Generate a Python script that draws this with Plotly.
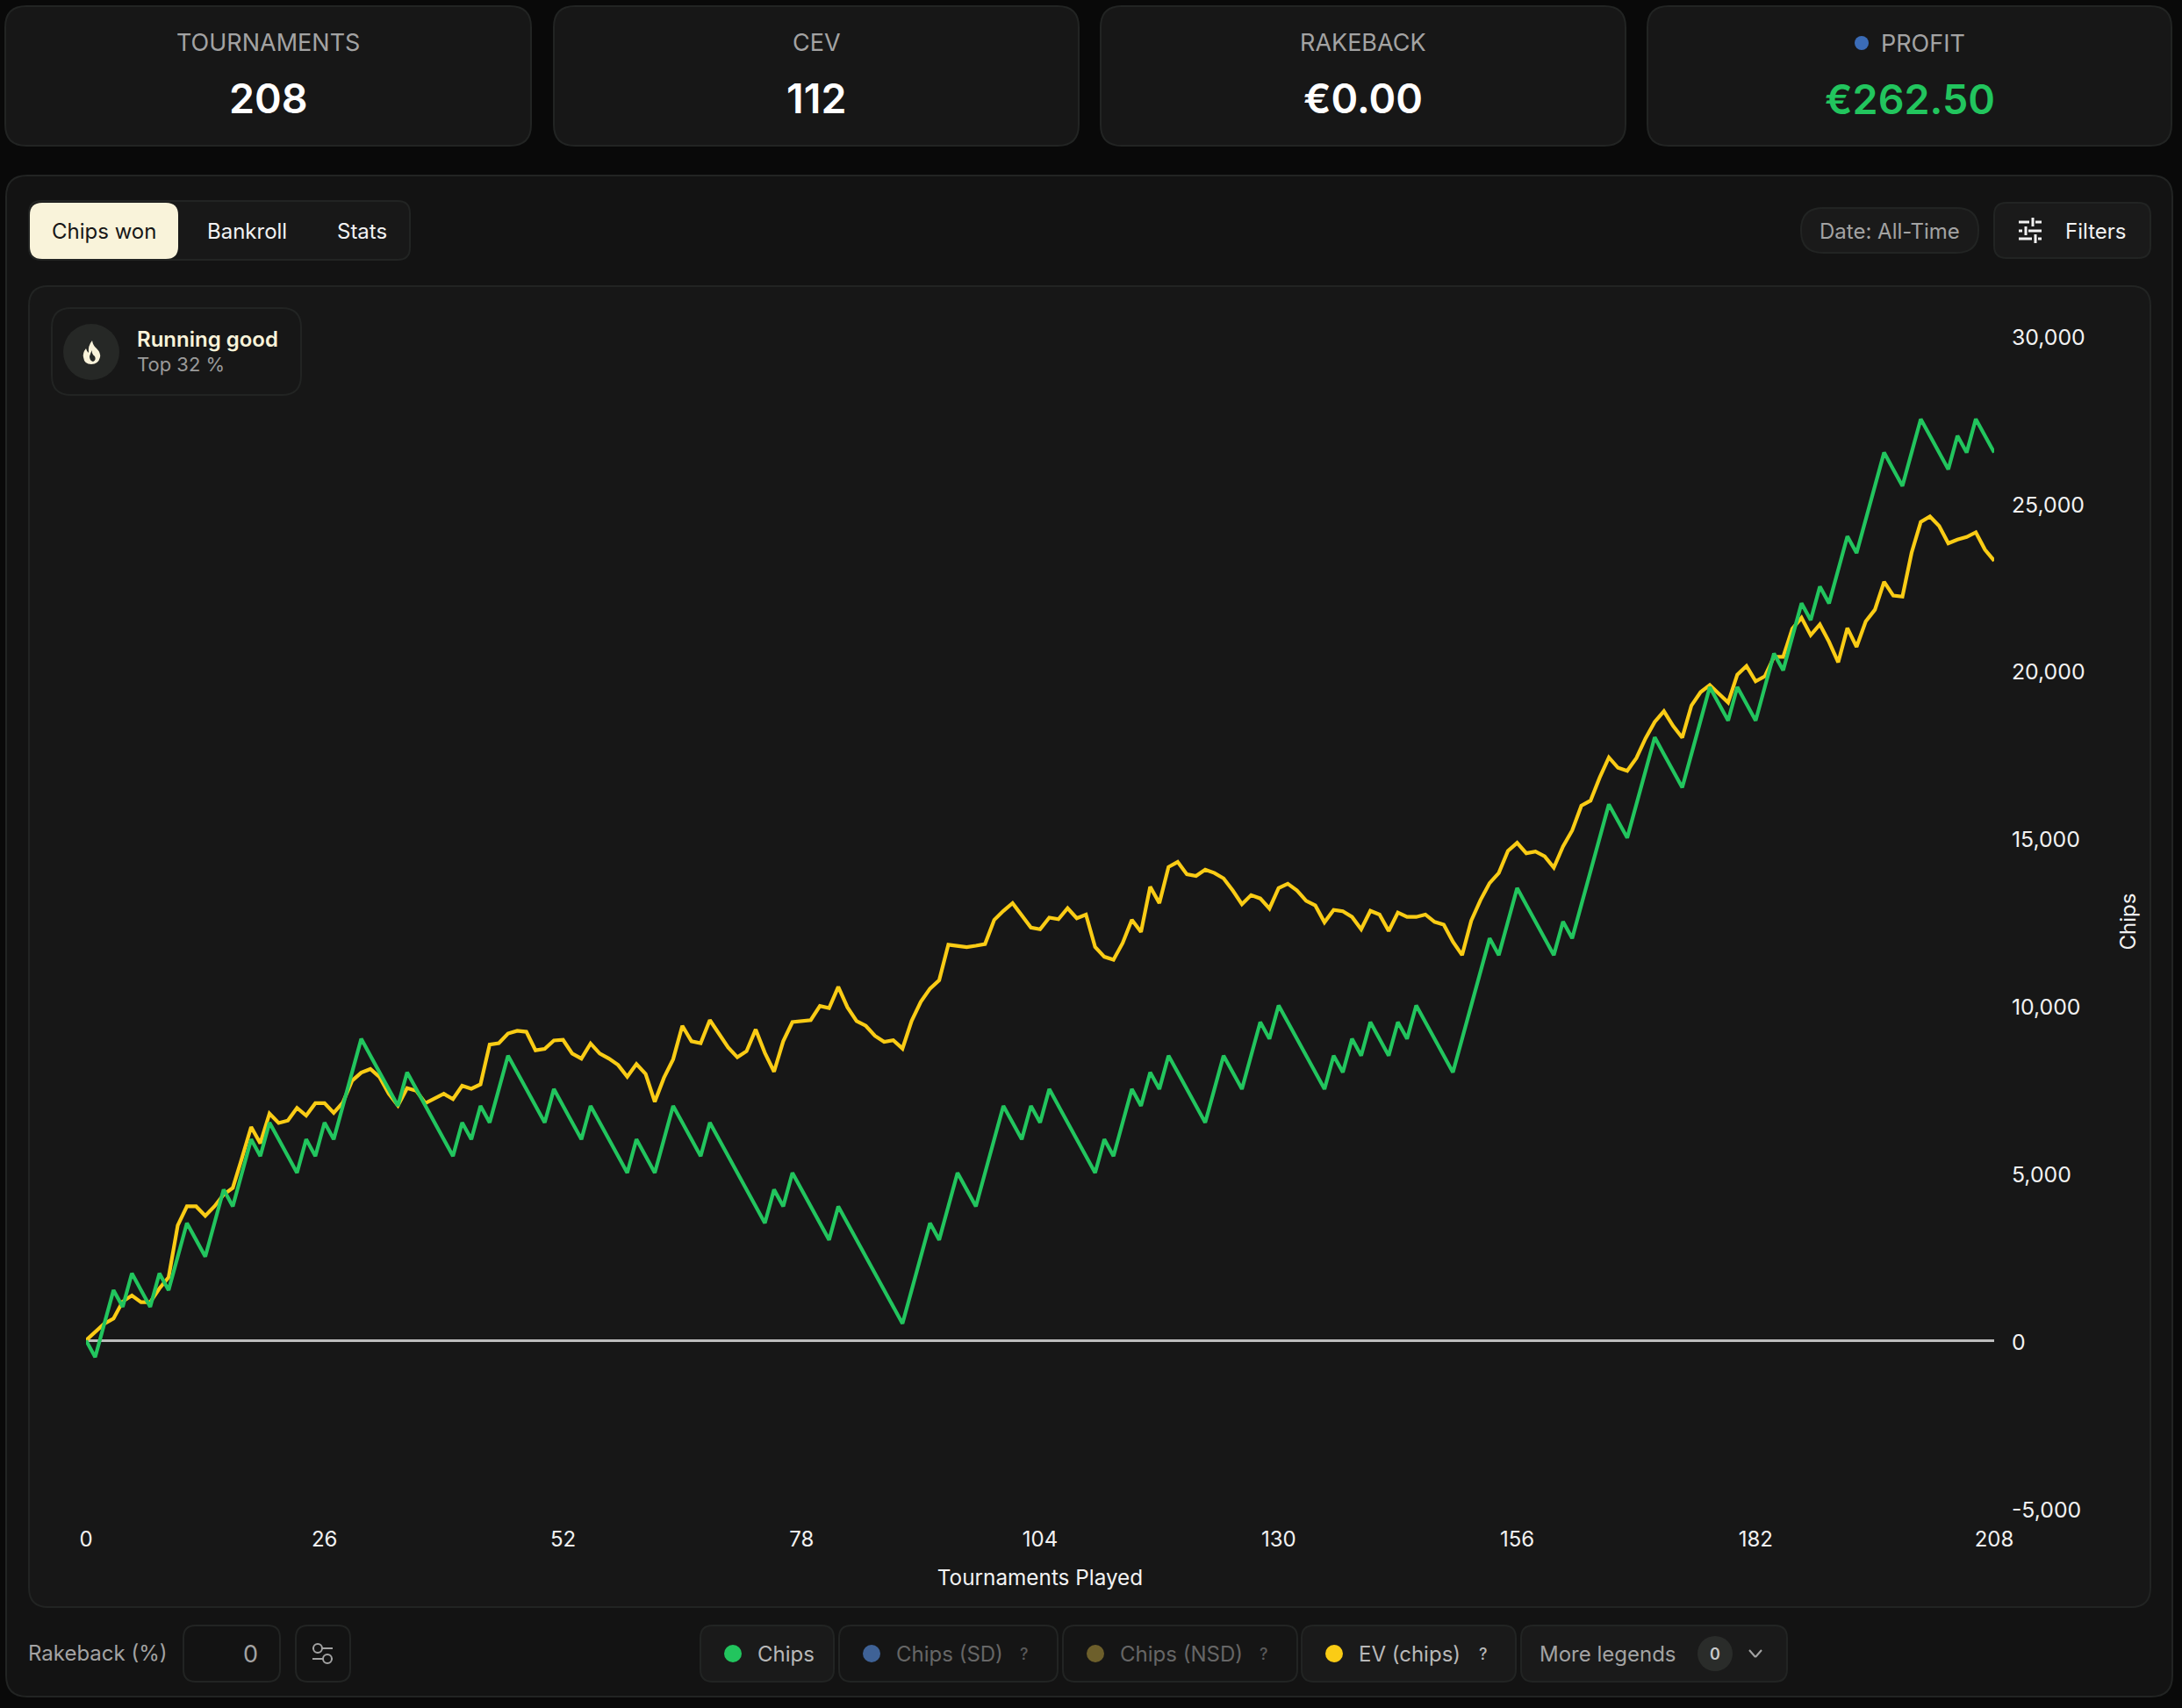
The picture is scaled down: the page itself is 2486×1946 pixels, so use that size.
import plotly.graph_objects as go

W = 2486
H = 1946

tick_x = [0, 26, 52, 78, 104, 130, 156, 182, 208]
tick_y = [-5000, 0, 5000, 10000, 15000, 20000, 25000, 30000]
tick_y_labels = ["-5,000", "0", "5,000", "10,000", "15,000", "20,000", "25,000", "30,000"]

chips = [
    0, -500, 500, 1500, 1000, 2000, 1500, 1000, 2000, 1500,
    2500, 3500, 3000, 2500, 3500, 4500, 4000, 5000, 6000, 5500,
    6500, 6000, 5500, 5000, 6000, 5500, 6500, 6000, 7000, 8000,
    9000, 8500, 8000, 7500, 7000, 8000, 7500, 7000, 6500, 6000,
    5500, 6500, 6000, 7000, 6500, 7500, 8500, 8000, 7500, 7000,
    6500, 7500, 7000, 6500, 6000, 7000, 6500, 6000, 5500, 5000,
    6000, 5500, 5000, 6000, 7000, 6500, 6000, 5500, 6500, 6000,
    5500, 5000, 4500, 4000, 3500, 4500, 4000, 5000, 4500, 4000,
    3500, 3000, 4000, 3500, 3000, 2500, 2000, 1500, 1000, 500,
    1500, 2500, 3500, 3000, 4000, 5000, 4500, 4000, 5000, 6000,
    7000, 6500, 6000, 7000, 6500, 7500, 7000, 6500, 6000, 5500,
    5000, 6000, 5500, 6500, 7500, 7000, 8000, 7500, 8500, 8000,
    7500, 7000, 6500, 7500, 8500, 8000, 7500, 8500, 9500, 9000,
    10000, 9500, 9000, 8500, 8000, 7500, 8500, 8000, 9000, 8500,
    9500, 9000, 8500, 9500, 9000, 10000, 9500, 9000, 8500, 8000,
    9000, 10000, 11000, 12000, 11500, 12500, 13500, 13000, 12500, 12000,
    11500, 12500, 12000, 13000, 14000, 15000, 16000, 15500, 15000, 16000,
    17000, 18000, 17500, 17000, 16500, 17500, 18500, 19500, 19000, 18500,
    19500, 19000, 18500, 19500, 20500, 20000, 21000, 22000, 21500, 22500,
    22000, 23000, 24000, 23500, 24500, 25500, 26500, 26000, 25500, 26500,
    27500, 27000, 26500, 26000, 27000, 26500, 27500, 27000, 26500,
]

ev_chips = [
    0, 250, 500, 650, 1160, 1340, 1140, 1140, 1550, 1880,
    3430, 4000, 4000, 3720, 4000, 4350, 4550, 5440, 6370, 5880,
    6770, 6490, 6560, 6940, 6710, 7080, 7080, 6790, 7100, 7750,
    7990, 8100, 7860, 7360, 7010, 7530, 7450, 7080, 7230, 7360,
    7200, 7600, 7510, 7640, 8830, 8870, 9160, 9240, 9210, 8660,
    8700, 8950, 8970, 8560, 8410, 8860, 8560, 8410, 8220, 7870,
    8250, 7950, 7120, 7840, 8390, 9390, 8930, 8870, 9560, 9150,
    8740, 8450, 8630, 9280, 8580, 8020, 8930, 9500, 9530, 9560,
    9980, 9920, 10550, 9940, 9530, 9390, 9090, 8910, 8960, 8710,
    9540, 10110, 10500, 10750, 11810, 11780, 11740, 11780, 11830, 12550,
    12820, 13050, 12690, 12320, 12270, 12620, 12570, 12900, 12600, 12710,
    11740, 11450, 11360, 11860, 12550, 12190, 13540, 13050, 14130, 14280,
    13910, 13860, 14050, 13950, 13790, 13430, 13020, 13290, 13190, 12890,
    13500, 13630, 13430, 13120, 12980, 12480, 12850, 12810, 12640, 12270,
    12820, 12710, 12220, 12770, 12640, 12640, 12710, 12490, 12410, 11900,
    11500, 12530, 13140, 13650, 13950, 14610, 14850, 14540, 14590, 14450,
    14110, 14740, 15220, 15960, 16110, 16800, 17400, 17090, 17000, 17380,
    17970, 18460, 18780, 18340, 17990, 18950, 19350, 19560, 19300, 19040,
    19870, 20130, 19670, 19820, 20400, 20400, 21240, 21570, 21050, 21370,
    20850, 20240, 21260, 20700, 21460, 21810, 22640, 22230, 22200, 23510,
    24430, 24590, 24310, 23790, 23900, 23980, 24120, 23600, 23270,
]

games = list(range(len(chips)))

FONT = "Inter"
BG = "#090909"
CARD = "#171717"
PANEL = "#131313"
BORDER = "#222423"
CREAM = "#F9F3DA"
GREEN = "#22C55E"
YELLOW = "#FACC15"

# plot area in page pixels
L, R, T, B = 98, 2272, 382, 1718


def px(x):
    return (x - L) / (R - L)


def py(y):
    return (B - y) / (B - T)


def box_path(x0, y0, x1, y1, r):
    return (
        f"M{px(x0 + r)},{py(y0)} L{px(x1 - r)},{py(y0)} "
        f"Q{px(x1)},{py(y0)} {px(x1)},{py(y0 + r)} L{px(x1)},{py(y1 - r)} "
        f"Q{px(x1)},{py(y1)} {px(x1 - r)},{py(y1)} L{px(x0 + r)},{py(y1)} "
        f"Q{px(x0)},{py(y1)} {px(x0)},{py(y1 - r)} L{px(x0)},{py(y0 + r)} "
        f"Q{px(x0)},{py(y0)} {px(x0 + r)},{py(y0)} Z"
    )


shapes = []
notes = []


def box(x0, y0, x1, y1, r, fill, line=BORDER, width=2):
    shapes.append(dict(
        type="path", path=box_path(x0, y0, x1, y1, r), xref="paper", yref="paper",
        fillcolor=fill, line=dict(color=line, width=width), layer="below",
    ))


def dot(cx, cy, r, fill):
    shapes.append(dict(
        type="circle", xref="paper", yref="paper",
        x0=px(cx - r), x1=px(cx + r), y0=py(cy + r), y1=py(cy - r),
        fillcolor=fill, line=dict(width=0), layer="below",
    ))


def seg(x0, y0, x1, y1, color, width=3):
    shapes.append(dict(
        type="line", xref="paper", yref="paper",
        x0=px(x0), x1=px(x1), y0=py(y0), y1=py(y1),
        line=dict(color=color, width=width), layer="above",
    ))


def label(x, y, text, size=24, color="#F2F2F2", anchor="center", weight=400):
    # left anchored annotations sit a little to the right of x
    if anchor == "left":
        x = x - 2.5
    notes.append(dict(
        x=px(x), y=py(y), xref="paper", yref="paper", text=text, showarrow=False,
        xanchor=anchor, yanchor="middle",
        font=dict(family=FONT, size=size, color=color, weight=weight),
    ))


# stat cards
cards = [
    (6, 605, "TOURNAMENTS", "208", "#FFFFFF"),
    (631, 1229, "CEV", "112", "#FFFFFF"),
    (1254, 1852, "RAKEBACK", "€0.00", "#FFFFFF"),
]
for x0, x1, name, value, col in cards:
    box(x0, 7, x1, 166, 24, CARD)
    label((x0 + x1) / 2, 48, name, size=27, color="#A3A3A3")
    label((x0 + x1) / 2, 112, value, size=46.6, color=col, weight=600)
box(1877, 7, 2474, 166, 24, CARD)
dot(2121, 49, 8, "#3B6CB7")
label(2143, 49, "PROFIT", size=27, color="#A3A3A3", anchor="left")
label(2176, 113, "€262.50", size=46.6, color=GREEN, weight=600)

# main panel
box(7, 200, 2475, 1933, 24, PANEL)
box(33, 326, 2450, 1831, 22, CARD, width=2)

# tabs
box(33, 229, 467, 296, 14, "#181818")
box(34, 231, 203, 295, 14, CREAM, line=CREAM, width=0)
label(118, 263, "Chips won", color="#171717")
label(281, 263, "Bankroll")
label(412, 263, "Stats")

# date + filters
box(2052, 237, 2254, 288, 25, "#1A1A1A")
label(2153, 263, "Date: All-Time", color="#A3A3A3")
box(2272, 231, 2450, 294, 14, "#1A1A1A")
label(2353, 263, "Filters", anchor="left")
for y, gap in [(253, 2316), (263, 2308), (272, 2319)]:
    seg(2300, y, gap - 4, y, "#F2F2F2")
    seg(gap + 3, y, 2326, y, "#F2F2F2")
    seg(gap, y - 5, gap, y + 5, "#F2F2F2")

# running good badge
box(59, 351, 343, 450, 22, CARD)
dot(104, 401, 32, "#262826")
shapes.append(dict(
    type="path", xref="paper", yref="paper", fillcolor=CREAM, line=dict(width=0), layer="above",
    path=(
        f"M{px(105)},{py(388)} Q{px(106)},{py(394)} {px(110)},{py(397)} "
        f"Q{px(115)},{py(402)} {px(114)},{py(407)} Q{px(112)},{py(415)} {px(104)},{py(415)} "
        f"Q{px(96)},{py(415)} {px(95)},{py(407)} Q{px(94)},{py(402)} {px(98)},{py(397)} "
        f"Q{px(99)},{py(401)} {px(101)},{py(402)} Q{px(100)},{py(394)} {px(105)},{py(388)} Z"
    ),
))
shapes.append(dict(
    type="path", xref="paper", yref="paper", fillcolor="#262826", line=dict(width=0), layer="above",
    path=(
        f"M{px(105)},{py(399)} Q{px(104)},{py(403)} {px(108)},{py(406)} "
        f"Q{px(110)},{py(410)} {px(106)},{py(412)} Q{px(102)},{py(411)} {px(102)},{py(406)} "
        f"Q{px(103)},{py(402)} {px(105)},{py(399)} Z"
    ),
))
label(156, 387, "Running good", color=CREAM, anchor="left", weight=600)
label(156, 415, "Top 32 %", size=22, color="#9A9A9A", anchor="left")

# rakeback controls
label(32, 1883, "Rakeback (%)", color="#A3A3A3", anchor="left")
box(209, 1852, 319, 1916, 14, PANEL)
label(285, 1884, "0", size=27, color="#A3A3A3")
box(337, 1852, 399, 1916, 14, PANEL)
for y, cx in [(1878, 362), (1890, 373)]:
    seg(356, y, 379, y, "#A3A3A3", 2)
    dot(cx, y, 5, PANEL)
    shapes.append(dict(
        type="circle", xref="paper", yref="paper",
        x0=px(cx - 5), x1=px(cx + 5), y0=py(y + 5), y1=py(y - 5),
        fillcolor=PANEL, line=dict(color="#A3A3A3", width=2), layer="above",
    ))

# legend pills
legend_items = [
    (798, 950, 835, GREEN, 863, "Chips", "#B8B8B8", "#1A1A1A", None),
    (956, 1205, 993, "#3F6296", 1021, "Chips (SD)", "#666666", "#151515", 1167),
    (1211, 1478, 1248, "#6D5F2B", 1276, "Chips (NSD)", "#666666", "#151515", 1440),
    (1483, 1727, 1520, YELLOW, 1548, "EV (chips)", "#B8B8B8", "#1A1A1A", 1690),
]
for x0, x1, dx, dcol, tx, name, tcol, fill, qx in legend_items:
    box(x0, 1852, x1, 1916, 14, fill)
    dot(dx, 1884, 10, dcol)
    label(tx, 1884, name, color=tcol, anchor="left")
    if qx:
        qcol = "#B8B8B8" if tcol == "#B8B8B8" else "#5A5A5A"
        label(qx, 1884, "?", size=18, color=qcol, weight=500)

box(1733, 1852, 2036, 1916, 14, "#1A1A1A")
label(1754, 1884, "More legends", color="#A3A3A3", anchor="left")
dot(1954, 1884, 20, "#2A2C2A")
label(1954, 1884, "0", size=18, color="#C8C8C8", weight=600)
seg(1993, 1880, 2000, 1888, "#A3A3A3", 2)
seg(2000, 1888, 2007, 1880, "#A3A3A3", 2)

fig = go.Figure()
fig.add_trace(go.Scatter(x=games, y=ev_chips, mode="lines", name="EV (chips)",
                         line=dict(color=YELLOW, width=4.2, shape="linear")))
fig.add_trace(go.Scatter(x=games, y=chips, mode="lines", name="Chips",
                         line=dict(color=GREEN, width=4.2, shape="linear")))

fig.update_layout(
    width=W, height=H,
    margin=dict(l=L, r=W - R, t=T, b=H - B, pad=0),
    paper_bgcolor=BG, plot_bgcolor="rgba(0,0,0,0)",
    showlegend=False,
    font=dict(family=FONT, size=24, color="#F2F2F2"),
    shapes=shapes, annotations=notes,
    xaxis=dict(
        range=[0, 208], tickvals=tick_x, showgrid=False, zeroline=False, showline=False,
        ticks="outside", ticklen=14, tickcolor="rgba(0,0,0,0)",
        tickfont=dict(family=FONT, size=24, color="#F2F2F2"),
        title=dict(text="Tournaments Played", standoff=22, font=dict(family=FONT, size=24.3, color="#F2F2F2")),
        automargin=False,
    ),
    yaxis=dict(
        range=[-5000, 30000], tickvals=tick_y, ticktext=tick_y_labels, side="right",
        showgrid=False, showline=False,
        zeroline=True, zerolinecolor="#BDBDBD", zerolinewidth=3,
        ticks="outside", ticklen=14, tickcolor="rgba(0,0,0,0)",
        ticklabelshift=2,
        tickfont=dict(family=FONT, size=24.8, color="#F2F2F2"),
        title=dict(text="Chips", standoff=41, font=dict(family=FONT, size=24, color="#F2F2F2")),
        automargin=False,
    ),
)

fig.write_html(
    "out.html",
    config={"displayModeBar": False},
    post_script="document.body.style.margin='0';document.body.style.background='#090909';",
)
